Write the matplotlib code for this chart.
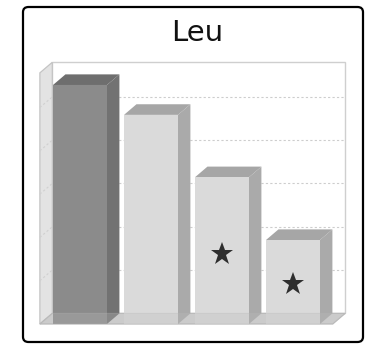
import matplotlib
matplotlib.use("Agg")
import matplotlib.pyplot as plt
from matplotlib.patches import Polygon, Rectangle, FancyBboxPatch

# Chart data
title = "Leu"
categories = ["A", "B", "C", "D"]
values = [5.52, 4.83, 3.39, 1.94]
starred = [False, False, True, True]
grid_ticks = [1, 2, 3, 4, 5]
wall_top = 5.8

fig = plt.figure(figsize=(3.69, 3.44), dpi=100)
fig.patch.set_facecolor("white")

fig.text(197 / 369, 1 - 33 / 344, title, ha="center", va="center",
         fontsize=21, color="#111111", family="DejaVu Sans")

ax = fig.add_axes([0, 0, 1, 1])
ax.set_facecolor("none")
ax.axis("off")
# scale: one category step ~71 px, one grid unit ~43.3 px
ax.set_xlim(-80 / 71, (369 - 80) / 71)
ax.set_ylim(-20 / 43.3, (344 - 20) / 43.3)

dx, dy = 0.175, 0.245   # depth offset for the 3D look
bw = 0.76
x0, x1 = -0.565, 3.56

# back wall
ax.add_patch(Rectangle((x0 + dx, dy), x1 - x0, wall_top, facecolor="white",
                       edgecolor="#cfcfcf", linewidth=1.0, zorder=1))
# left wall
ax.add_patch(Polygon([(x0, 0), (x0 + dx, dy), (x0 + dx, wall_top + dy), (x0, wall_top)],
                     closed=True, facecolor="#e3e3e3", edgecolor="#c4c4c4",
                     linewidth=0.9, zorder=2))
# grid lines on back and side walls
for g in grid_ticks:
    ax.plot([x0 + dx, x1 + dx], [g + dy, g + dy], color="#cdcdcd",
            linestyle=(0, (2, 2)), linewidth=0.8, zorder=1.5)
    ax.plot([x0, x0 + dx], [g, g + dy], color="#d0d0d0",
            linestyle=(0, (2, 2)), linewidth=0.8, zorder=2.5)

# floor
ax.add_patch(Polygon([(x0, 0), (x1, 0), (x1 + dx, dy), (x0 + dx, dy)], closed=True,
                     facecolor="#d2d2d2", edgecolor="#bdbdbd", linewidth=0.8, zorder=3))

for i, v in enumerate(values):
    if i == 0:
        front, side, top = "#8b8b8b", "#727272", "#6e6e6e"
    else:
        front, side, top = "#dadada", "#aaaaaa", "#a6a6a6"
    left, right = i - bw / 2, i + bw / 2
    ax.add_patch(Polygon([(right, 0), (right + dx, dy), (right + dx, v + dy), (right, v)],
                         closed=True, facecolor=side, edgecolor="none", zorder=4))
    ax.add_patch(Polygon([(left, v), (right, v), (right + dx, v + dy), (left + dx, v + dy)],
                         closed=True, facecolor=top, edgecolor="none", zorder=4))
    ax.bar(i, v, width=bw, color=front, edgecolor="none", zorder=5)
    if starred[i]:
        ax.plot(i, v * 0.48, marker="*", markersize=17, color="#2e2e2e",
                markeredgewidth=0, zorder=6)

# translucent floor edge over the bar bases
ax.add_patch(Polygon([(x0, 0), (x1, 0), (x1 + dx, dy), (x0 + dx, dy)], closed=True,
                     facecolor="#bcbcbc", alpha=0.3, edgecolor="#b5b5b5",
                     linewidth=0.8, zorder=7))

# rounded outer frame
frame = FancyBboxPatch((23 / 369, 2 / 344), 340 / 369, 335 / 344,
                       boxstyle="round,pad=0,rounding_size=0.015",
                       transform=fig.transFigure, facecolor="none",
                       edgecolor="black", linewidth=1.6)
ax.add_artist(frame)
frame.set_zorder(10)

fig.savefig("out.png", dpi=100)
